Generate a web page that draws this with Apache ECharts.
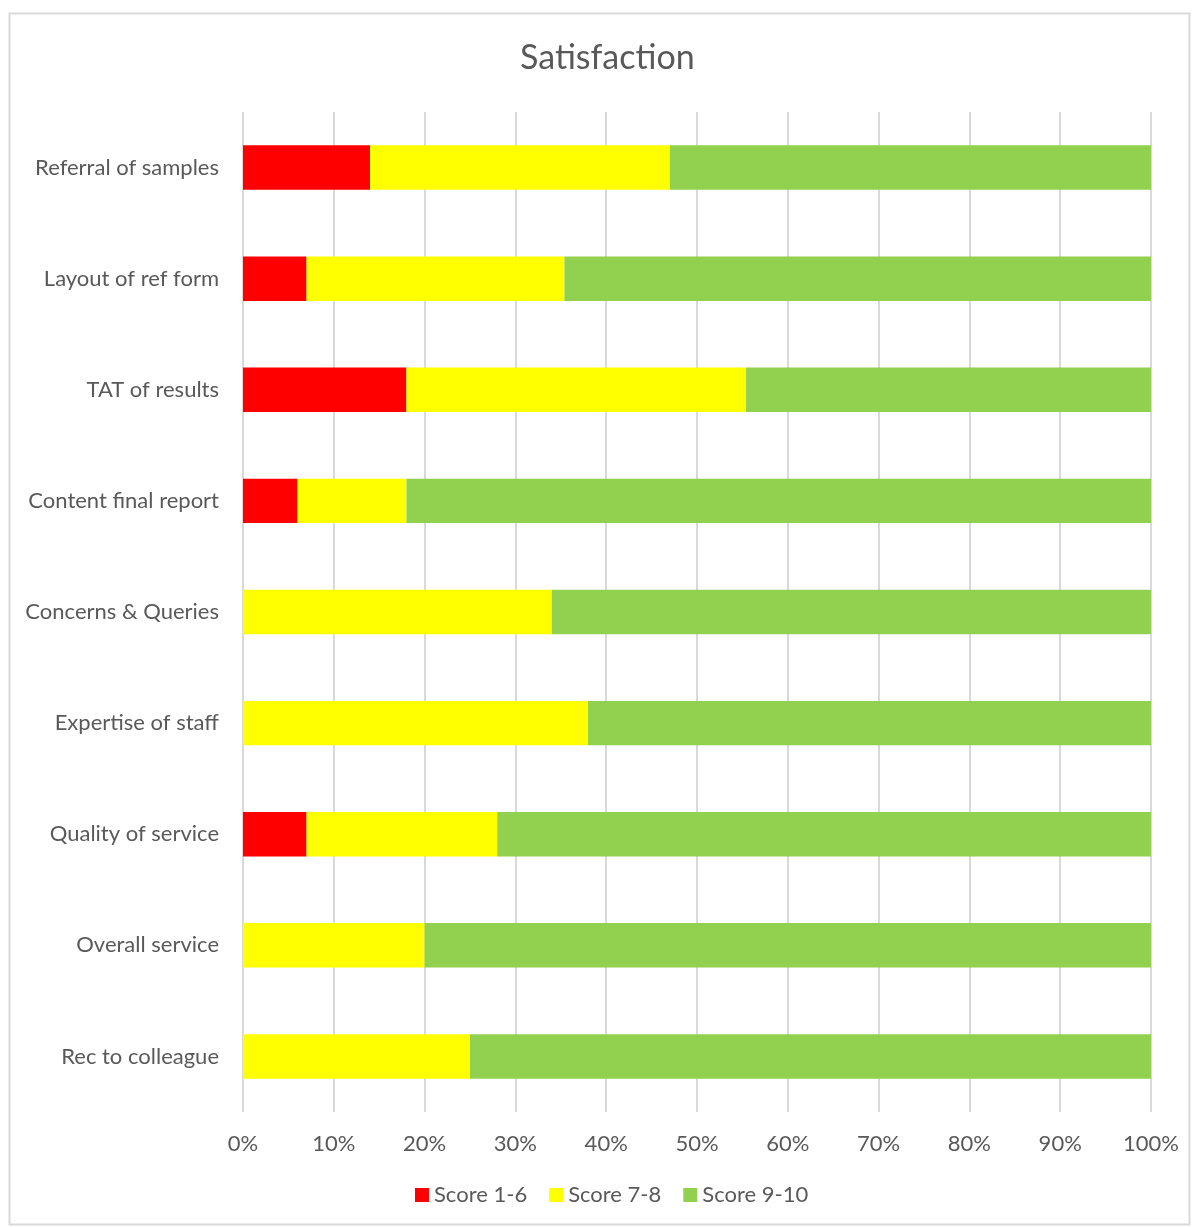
<!DOCTYPE html>
<html>
<head>
<meta charset="utf-8">
<style>
html,body{margin:0;padding:0;background:#fff;}
#chart{width:1194px;height:1227px;}
</style>
<script src="https://cdn.jsdelivr.net/npm/echarts@6/dist/echarts.min.js"></script>
</head>
<body>
<div id="chart"></div>
<script>
const categories = ["Referral of samples","Layout of ref form","TAT of results","Content final report","Concerns & Queries","Expertise of staff","Quality of service","Overall service","Rec to colleague"];
const score16  = [14, 7, 18, 6, 0, 0, 7, 0, 0];
const score78  = [33, 28.4, 37.4, 12, 34, 38, 21, 20, 25];
const score910 = [53, 64.6, 44.6, 82, 66, 62, 72, 80, 75];
const xTicks = [0,10,20,30,40,50,60,70,80,90,100];

const font = 'Lato, "Open Sans", sans-serif';
const textColor = '#595959';
const chart = echarts.init(document.getElementById('chart'));
const mk = (name, data, color) => ({
  name, type: 'bar', stack: 'total', data: data.slice().reverse(),
  itemStyle: {color}, barCategoryGap: '60%'
});
chart.setOption({
  animation: false,
  title: {text: 'Satisfaction', left: 515, top: 36, textStyle: {fontFamily: font, fontSize: 34, fontWeight: 'normal', color: textColor}},
  graphic: [{type: 'rect', shape: {x: 9.5, y: 13.5, width: 1180, height: 1211}, style: {fill: 'none', stroke: '#d9d9d9', lineWidth: 2}, z: -1}],
  legend: {left: 410, bottom: 16, itemWidth: 14, itemHeight: 14, itemGap: 22, icon: 'rect',
    textStyle: {fontFamily: font, fontSize: 22, color: textColor}, data: ['Score 1-6','Score 7-8','Score 9-10']},
  grid: {left: 243, right: 43, top: 112, bottom: 115, containLabel: false},
  xAxis: {type: 'value', min: 0, max: 100, interval: 10,
    axisLabel: {formatter: v => v + '%', fontFamily: font, fontSize: 22, color: textColor, margin: 21},
    axisLine: {show: false}, axisTick: {show: false},
    splitLine: {show: true, lineStyle: {color: '#d9d9d9', width: 2}}},
  yAxis: {type: 'category', data: categories.slice().reverse(),
    axisLabel: {fontFamily: font, fontSize: 22, color: textColor, margin: 24},
    axisLine: {show: false}, axisTick: {show: false}},
  series: [mk('Score 1-6', score16, '#ff0000'), mk('Score 7-8', score78, '#ffff00'), mk('Score 9-10', score910, '#92d050')]
});
</script>
</body>
</html>
